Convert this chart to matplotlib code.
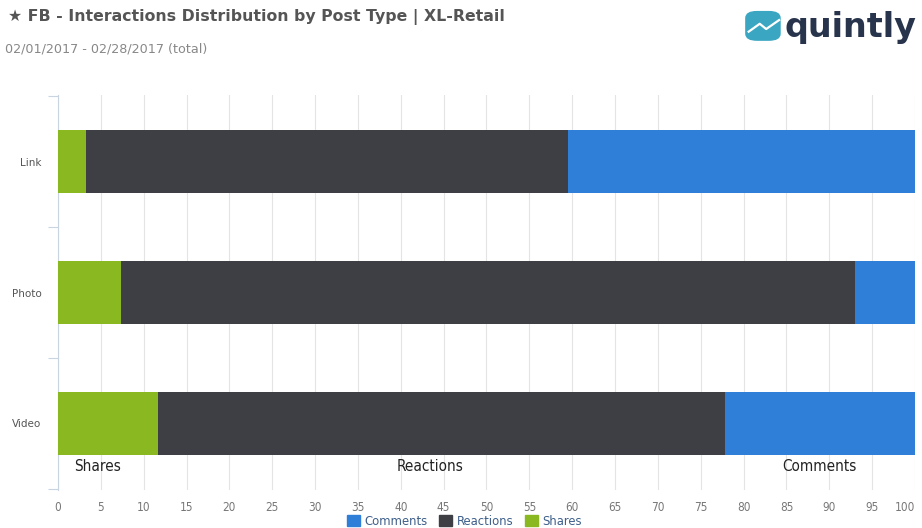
import matplotlib.pyplot as plt
import matplotlib.patches as mpatches
from matplotlib import font_manager

# Share of interactions per post type (percent)
post_types = ['Link', 'Photo', 'Video']
shares = [3.3, 7.4, 11.7]
reactions = [56.2, 85.6, 66.1]
comments = [40.5, 7.0, 22.2]
x_ticks = list(range(0, 101, 5))

green = '#8ab820'
dark = '#3e3f44'
blue = '#2f7ed8'

# pick a condensed face if one is around
narrow_file = None
for f in font_manager.fontManager.ttflist:
    if ('Narrow' in f.name or 'Condensed' in f.name
            or 'ondensed' in str(f.stretch)) and 'Bold' not in f.fname \
            and 'Oblique' not in f.fname and 'Italic' not in f.fname:
        narrow_file = f.fname
        break


def narrow(size):
    if narrow_file:
        return font_manager.FontProperties(fname=narrow_file, size=size)
    return font_manager.FontProperties(family='DejaVu Sans', size=size * 0.88)


fig = plt.figure(figsize=(9.22, 5.28), dpi=100)
ax = fig.add_axes([0.0629, 0.072, 0.9295, 0.748])

y = list(range(len(post_types)))
left2 = [s + r for s, r in zip(shares, reactions)]
ax.barh(y, shares, height=0.48, color=green, zorder=3)
ax.barh(y, reactions, left=shares, height=0.48, color=dark, zorder=3)
ax.barh(y, comments, left=left2, height=0.48, color=blue, zorder=3)

# segment names under the last bar
vid = len(post_types) - 1
seg_centers = [shares[vid] / 2 - 1.2,
               shares[vid] + reactions[vid] / 2 - 1.3,
               left2[vid] + comments[vid] / 2]
for cx, txt in zip(seg_centers, ['Shares', 'Reactions', 'Comments']):
    ax.text(cx, vid + 0.33, txt, ha='center', va='center',
            fontproperties=narrow(11), color='#222222', zorder=4)

ax.set_xlim(0, 100)
ax.set_ylim(2.51, -0.51)
ax.set_xticks(x_ticks)
xl = ax.set_xticklabels([str(t) for t in x_ticks], color='#777777')
for t in xl:
    t.set_fontproperties(narrow(8.5))
xl[-1].set_horizontalalignment('right')
ax.set_yticks(y)
ax.set_yticklabels(post_types, fontsize=7.5, color='#555555')
ax.tick_params(axis='x', length=0, pad=8)
ax.tick_params(axis='y', length=0, pad=12)
ax.set_yticks([-0.5, 0.5, 1.5, 2.5], minor=True)
ax.tick_params(axis='y', which='minor', length=7, color='#c8d4e0', width=0.8)
ax.grid(axis='x', color='#e4e4e4', linewidth=0.8, zorder=0)
for side in ['top', 'right', 'bottom']:
    ax.spines[side].set_visible(False)
ax.spines['left'].set_color('#c8d4e0')

# titles
fig.text(0.009, 0.967, '\u2605 FB - Interactions Distribution by Post Type | XL-Retail',
         fontsize=11.3, fontweight='bold', color='#555555', va='center')
fig.text(0.005, 0.907, '02/01/2017 - 02/28/2017 (total)', fontsize=9.2,
         color='#888888', va='center')

# logo
logo = mpatches.FancyBboxPatch((0.813, 0.928), 0.029, 0.046,
                               boxstyle='round,pad=0.004,rounding_size=0.012',
                               transform=fig.transFigure, color='#3aa6c2')
fig.patches.append(logo)
fig.add_artist(plt.Line2D([0.812, 0.824, 0.831, 0.845], [0.94, 0.955, 0.945, 0.962],
                          transform=fig.transFigure, color='white', linewidth=1.6))
fig.text(0.851, 0.948, 'quintly', fontsize=24, fontweight='bold', color='#27344c',
         va='center')

# legend
handles = [mpatches.Patch(color=blue, label='Comments'),
           mpatches.Patch(color=dark, label='Reactions'),
           mpatches.Patch(color=green, label='Shares')]
leg = fig.legend(handles=handles, loc='center', bbox_to_anchor=(0.504, 0.013), ncol=3,
                 frameon=False, handlelength=1.0, handleheight=1.0,
                 handletextpad=0.35, columnspacing=0.9, prop=narrow(9.3))
for t in leg.get_texts():
    t.set_color('#3d5f8a')

fig.savefig('out.png', dpi=100)
